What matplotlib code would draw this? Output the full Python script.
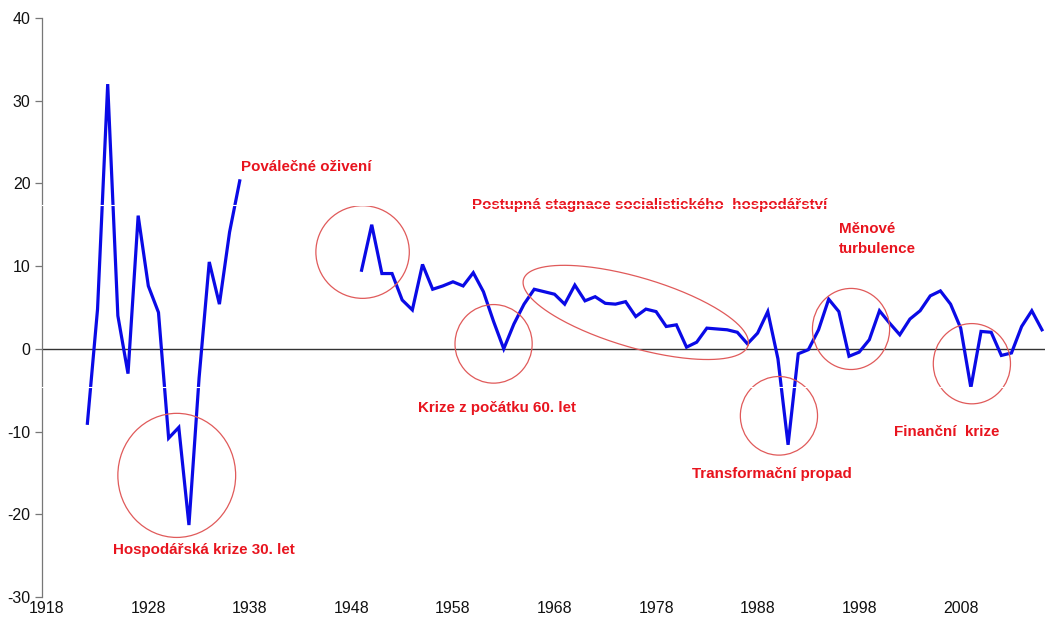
import numpy as np
import matplotlib
matplotlib.use("Agg")
import matplotlib.pyplot as plt
from matplotlib.patches import Ellipse

# ---- data ----
years_prewar = list(range(1922, 1938))
growth_prewar = [-9.0, 4.8, 32.0, 4.0, -3.0, 16.1, 7.6, 4.4, -10.8, -9.5, -21.3,
                 -3.5, 10.5, 5.4, 14.1, 20.3]

years_postwar = list(range(1949, 2017))
growth_postwar = [9.5, 15.0, 9.1, 9.1, 5.9, 4.7, 10.2, 7.2, 7.6, 8.1, 7.6, 9.2,
                  6.9, 3.3, 0.0, 3.0, 5.4, 7.2, 6.9, 6.6, 5.4, 7.7, 5.8, 6.3,
                  5.5, 5.4, 5.7, 3.9, 4.8, 4.5, 2.7, 2.9, 0.2, 0.8, 2.5, 2.4,
                  2.3, 2.0, 0.6, 1.9, 4.5, -1.2, -11.6, -0.6, -0.1, 2.3, 6.0, 4.5,
                  -0.9, -0.4, 1.1, 4.6, 3.1, 1.7, 3.6, 4.6, 6.4, 7.0, 5.4, 2.5,
                  -4.7, 2.1, 2.0, -0.8, -0.5, 2.7, 4.6, 2.3]

xtick_years = list(range(1918, 2009, 10))
ytick_values = list(range(-30, 41, 10))

# annotations: (text, x, y, ha)
labels = [
    ("Poválečné oživení", 1937.1, 22.0, "left"),
    ("Postupná stagnace socialistického  hospodářství", 1959.9, 17.4, "left"),
    ("Měnové\nturbulence", 1996.0, 13.3, "left"),
    ("Krize z počátku 60. let", 1962.3, -7.2, "center"),
    ("Transformační propad", 1989.4, -15.1, "center"),
    ("Finanční  krize", 2006.6, -10.0, "center"),
    ("Hospodářská krize 30. let", 1933.5, -24.3, "center"),
]

# circles: (center year, center value, width years, height value)
circles = [
    (1930.8, -15.3, 11.6, 15.0),
    (1949.1, 11.7, 9.2, 11.2),
    (1962.0, 0.6, 7.6, 9.5),
    (1990.1, -8.1, 7.6, 9.5),
    (1997.2, 2.4, 7.6, 9.8),
    (2009.1, -1.8, 7.6, 9.7),
]

RED = "#E8141E"
BLUE = "#0A0AE6"

fig = plt.figure(figsize=(10.45, 6.22), dpi=100)
ax = fig.add_axes([0.0399, 0.0402, 0.9601, 0.931])
ax.set_xlim(1917.5, 2016.3)
ax.set_ylim(-30, 40)

px_x = (2016.3 - 1917.5) / (0.9601 * 1045)   # years per pixel
px_y = 70 / (0.931 * 622)                    # units per pixel

ax.plot(years_prewar, growth_prewar, color=BLUE, lw=2.3, solid_joinstyle="miter", zorder=3)
ax.plot(years_postwar, growth_postwar, color=BLUE, lw=2.3, solid_joinstyle="miter", zorder=3)

ax.axhline(0, color="#333333", lw=1.0, zorder=2)

for cx, cy, w, h in circles:
    ax.add_patch(Ellipse((cx, cy), w, h, fill=False, edgecolor="#E05A5A", lw=0.9, zorder=4))

# rotated ellipse for stagnation period (defined in pixel units)
a_px, b_px, t = 117, 35, np.deg2rad(16.4)
phi = np.linspace(0, 2 * np.pi, 300)
dx = a_px * np.cos(phi) * np.cos(t) - b_px * np.sin(phi) * np.sin(t)
dy = a_px * np.cos(phi) * np.sin(t) + b_px * np.sin(phi) * np.cos(t)
ecx, ecy = 1976.0, 4.4
ax.plot(ecx + dx * px_x, ecy - dy * px_y, color="#E05A5A", lw=0.9, zorder=4)

for txt, x, y, ha in labels:
    ax.text(x, y, txt, color=RED, fontsize=10.9, fontweight="bold", ha=ha, va="center",
            family=["Liberation Sans", "DejaVu Sans"], linespacing=1.55, zorder=5)

# faint white scan lines
for yv in (17.4, -4.6):
    ax.axhline(yv, color="white", lw=0.8, zorder=6)

for s in ("top", "right", "bottom"):
    ax.spines[s].set_visible(False)
ax.spines["left"].set_color("#777777")
ax.spines["left"].set_linewidth(0.9)

ax.set_yticks(ytick_values)
ax.set_yticklabels([str(v) for v in ytick_values])
ax.set_xticks(xtick_years)
ax.set_xticklabels([str(v) for v in xtick_years])
ax.tick_params(axis="y", direction="out", length=5, width=0.9, color="#777777", pad=3)
ax.tick_params(axis="x", length=0, pad=3)
for lab in ax.get_xticklabels() + ax.get_yticklabels():
    lab.set_family(["Liberation Sans", "DejaVu Sans"])
    lab.set_fontsize(11.5)
    lab.set_color("#111111")

fig.savefig("out.png", dpi=100)
